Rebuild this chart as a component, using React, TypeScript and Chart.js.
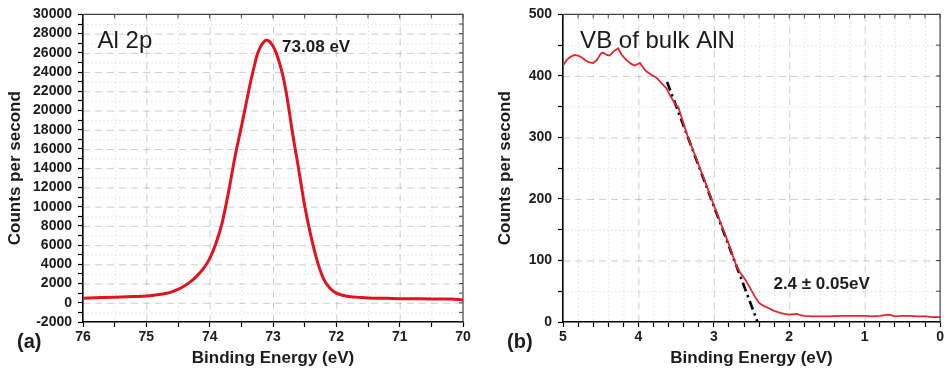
import React, { useEffect, useRef } from 'react';
import { Chart, registerables } from 'chart.js';

Chart.register(...registerables);

// ---------- Panel (a): Al 2p ----------
const energiesA = [76.0, 75.8, 75.5, 75.2, 75.0, 74.8, 74.7, 74.6, 74.5, 74.4, 74.3, 74.2, 74.1, 74.0, 73.9, 73.8, 73.7, 73.6, 73.5, 73.45, 73.4, 73.35, 73.3, 73.25, 73.2, 73.15, 73.1, 73.05, 73.0, 72.95, 72.9, 72.85, 72.8, 72.75, 72.7, 72.6, 72.5, 72.4, 72.3, 72.2, 72.1, 72.0, 71.9, 71.8, 71.6, 71.5, 71.2, 71.0, 70.5, 70.2, 70.0];
const countsA = [480, 520, 580, 650, 700, 850, 960, 1140, 1400, 1750, 2200, 2800, 3550, 4600, 6200, 8400, 11600, 15200, 18300, 19900, 21500, 23100, 24500, 25800, 26600, 27100, 27300, 27150, 26700, 26000, 25000, 23800, 22200, 20200, 18000, 14100, 10100, 6900, 4300, 2450, 1500, 1000, 780, 650, 540, 500, 460, 430, 400, 380, 300];

// ---------- Panel (b): VB of bulk AlN ----------
const energiesB = [5.0, 4.95, 4.9, 4.85, 4.8, 4.75, 4.7, 4.65, 4.6, 4.55, 4.5, 4.47, 4.42, 4.38, 4.33, 4.27, 4.22, 4.16, 4.1, 4.05, 3.98, 3.94, 3.9, 3.83, 3.76, 3.7, 3.63, 3.57, 3.5, 3.47, 3.4, 3.35, 3.3, 3.25, 3.2, 3.15, 3.1, 3.05, 3.0, 2.95, 2.9, 2.85, 2.8, 2.75, 2.7, 2.65, 2.6, 2.55, 2.5, 2.45, 2.4, 2.35, 2.3, 2.2, 2.1, 2.0, 1.9, 1.85, 1.8, 1.7, 1.5, 1.3, 1.1, 1.0, 0.9, 0.8, 0.7, 0.65, 0.6, 0.5, 0.4, 0.3, 0.2, 0.1, 0.0];
const countsB = [417, 426, 431, 434, 433, 430, 425, 422, 421, 426, 436, 438, 434, 433, 440, 445, 434, 426, 420, 417, 421, 414, 408, 402, 397, 389, 380, 366, 352, 349, 322, 303, 287, 271, 255, 239, 223, 206, 190, 174, 158, 142, 126, 108, 91, 80, 72, 62, 51, 40, 31, 27, 24, 18, 14, 12, 13, 11, 10, 9, 9, 10, 10, 10, 9, 10, 12, 11, 9, 10, 10, 9, 9, 8, 8];
const fitEnergiesB = [3.62, 2.42];
const fitCountsB = [390, 0];

// axis ranges
const xRangeA = [70, 76];
const yRangeA = [-2000, 30000];
const xRangeB = [0, 5];
const yRangeB = [0, 500];

const FONT = "'Liberation Sans', Arial, Helvetica, sans-serif";
const TEXT = '#1c1c1c';

Chart.defaults.font.family = FONT;
Chart.defaults.color = TEXT;

type Txt = { text: string; x: number; y: number; font: string; baseline: CanvasTextBaseline; data?: boolean };

const isMult = (v: number, step: number) => {
  const r = v / step;
  return Math.abs(r - Math.round(r)) < 1e-6;
};

function makePlugin(majorX: number, majorY: number, texts: Txt[]) {
  return {
    id: 'frameGrid',
    beforeDatasetsDraw(chart: any) {
      const { ctx, chartArea } = chart;
      const { left, right, top, bottom } = chartArea;
      const xs = chart.scales.x;
      const ys = chart.scales.y;
      ctx.save();
      ctx.lineWidth = 1;
      xs.ticks.forEach((t: any) => {
        const px = xs.getPixelForValue(t.value);
        if (px <= left + 1 || px >= right - 1) return;
        const major = isMult(t.value, majorX);
        ctx.strokeStyle = major ? 'rgba(0,0,0,0.2)' : 'rgba(0,0,0,0.12)';
        ctx.setLineDash(major ? [7, 5] : [1.5, 2.5]);
        ctx.beginPath();
        ctx.moveTo(px + 0.5, top);
        ctx.lineTo(px + 0.5, bottom);
        ctx.stroke();
      });
      ys.ticks.forEach((t: any) => {
        const py = ys.getPixelForValue(t.value);
        if (py <= top + 1 || py >= bottom - 1) return;
        const major = isMult(t.value, majorY);
        ctx.strokeStyle = major ? 'rgba(0,0,0,0.2)' : 'rgba(0,0,0,0.12)';
        ctx.setLineDash(major ? [7, 5] : [1.5, 2.5]);
        ctx.beginPath();
        ctx.moveTo(left, py + 0.5);
        ctx.lineTo(right, py + 0.5);
        ctx.stroke();
      });
      ctx.restore();
    },
    afterDatasetsDraw(chart: any) {
      const { ctx, chartArea } = chart;
      const { left, right, top, bottom } = chartArea;
      const xs = chart.scales.x;
      const ys = chart.scales.y;
      ctx.save();
      ctx.setLineDash([]);
      ctx.strokeStyle = '#444';
      ctx.lineWidth = 1.2;
      ctx.beginPath();
      ctx.moveTo(left, top);
      ctx.lineTo(right, top);
      ctx.lineTo(right, bottom);
      ctx.stroke();
      // mirrored ticks on top and right
      ctx.lineWidth = 1;
      xs.ticks.forEach((t: any) => {
        const px = xs.getPixelForValue(t.value);
        ctx.beginPath();
        ctx.moveTo(px, top);
        ctx.lineTo(px, top + 4);
        ctx.stroke();
      });
      ys.ticks.forEach((t: any) => {
        const py = ys.getPixelForValue(t.value);
        ctx.beginPath();
        ctx.moveTo(right - 4, py);
        ctx.lineTo(right, py);
        ctx.stroke();
      });
      // texts
      ctx.fillStyle = TEXT;
      ctx.textAlign = 'left';
      texts.forEach((t) => {
        ctx.font = t.font;
        ctx.textBaseline = t.baseline;
        const px = t.data ? xs.getPixelForValue(t.x) : t.x;
        const py = t.data ? ys.getPixelForValue(t.y) : t.y;
        ctx.fillText(t.text, px, py);
      });
      ctx.restore();
    },
  };
}

function scaleOpts(range: number[], step: number, major: number, reverse: boolean, title: string, isX: boolean, fixed: number, titlePad: any) {
  return {
    type: 'linear',
    min: range[0],
    max: range[1],
    reverse,
    afterFit: (s: any) => {
      if (isX) s.height = fixed;
      else s.width = fixed;
    },
    grid: { drawOnChartArea: false, drawTicks: true, tickLength: 5, tickColor: '#000', tickWidth: 1.2 },
    border: { display: true, color: '#000', width: 1.6 },
    ticks: {
      stepSize: step,
      autoSkip: false,
      maxRotation: 0,
      padding: isX ? 2 : 6,
      color: TEXT,
      font: { family: FONT, size: 14, weight: 'bold' },
      callback: (v: number) => (isMult(v, major) ? String(Math.round(v)) : ''),
    },
    title: {
      display: true,
      text: title,
      color: TEXT,
      font: { family: FONT, size: 17, weight: 'bold' },
      padding: titlePad,
    },
  };
}

function Panel(props: { which: 'a' | 'b' }) {
  const ref = useRef<HTMLCanvasElement | null>(null);
  const isA = props.which === 'a';
  const width = isA ? 480 : 466;
  useEffect(() => {
    if (!ref.current) return;
    let config: any;
    if (isA) {
      const texts: Txt[] = [
        { text: 'Al 2p', x: 75.77, y: 26500, font: `24px ${FONT}`, baseline: 'alphabetic', data: true },
        { text: '73.08 eV', x: 72.856, y: 26600, font: `bold 17px ${FONT}`, baseline: 'middle', data: true },
        { text: '(a)', x: 17, y: 342, font: `bold 20px ${FONT}`, baseline: 'middle' },
      ];
      config = {
        type: 'line',
        data: {
          datasets: [
            {
              data: energiesA.map((e, i) => ({ x: e, y: countsA[i] })),
              borderColor: '#e2121e',
              borderWidth: 3,
              pointRadius: 0,
              cubicInterpolationMode: 'monotone',
            },
          ],
        },
        options: {
          animation: false,
          responsive: false,
          layout: { padding: { top: 11, right: 17, left: 0, bottom: 0 } },
          plugins: { legend: { display: false }, tooltip: { enabled: false } },
          scales: {
            x: scaleOpts(xRangeA, 0.5, 1, true, 'Binding Energy (eV)', true, 52, { top: 0, bottom: 5 }),
            y: scaleOpts(yRangeA, 1000, 2000, false, 'Counts per second', false, 83, { top: 5, bottom: 0 }),
          },
        },
        plugins: [makePlugin(1, 2000, texts)],
      };
    } else {
      const texts: Txt[] = [
        { text: 'VB of bulk AlN', x: 4.773, y: 445, font: `24px ${FONT}`, baseline: 'alphabetic', data: true },
        { text: '2.4 \u00b1 0.05eV', x: 2.21, y: 62, font: `bold 17px ${FONT}`, baseline: 'middle', data: true },
        { text: '(b)', x: 27, y: 342, font: `bold 20px ${FONT}`, baseline: 'middle' },
      ];
      config = {
        type: 'line',
        data: {
          datasets: [
            {
              data: energiesB.map((e, i) => ({ x: e, y: countsB[i] })),
              borderColor: '#e5252f',
              borderWidth: 1.8,
              pointRadius: 0,
            },
            {
              data: fitEnergiesB.map((e, i) => ({ x: e, y: fitCountsB[i] })),
              borderColor: '#000',
              borderWidth: 2.6,
              borderDash: [9, 4, 2.5, 4],
              pointRadius: 0,
            },
          ],
        },
        options: {
          animation: false,
          responsive: false,
          layout: { padding: { top: 11, right: 3, left: 0, bottom: 0 } },
          plugins: { legend: { display: false }, tooltip: { enabled: false } },
          scales: {
            x: scaleOpts(xRangeB, 0.2, 1, true, 'Binding Energy (eV)', true, 52, { top: 0, bottom: 5 }),
            y: scaleOpts(yRangeB, 50, 100, false, 'Counts per second', false, 83, { top: 15, bottom: 0 }),
          },
        },
        plugins: [makePlugin(1, 100, texts)],
      };
    }
    const chart = new Chart(ref.current, config);
    return () => chart.destroy();
  }, [isA]);
  return (
    <canvas
      ref={ref}
      width={width}
      height={374}
      style={{ position: 'absolute', top: 0, left: isA ? 0 : 480, width, height: 374 }}
    />
  );
}

export default function App() {
  return (
    <div style={{ position: 'fixed', top: 0, left: 0, width: 946, height: 374, background: '#fff', overflow: 'hidden' }}>
      <Panel which="a" />
      <Panel which="b" />
    </div>
  );
}
